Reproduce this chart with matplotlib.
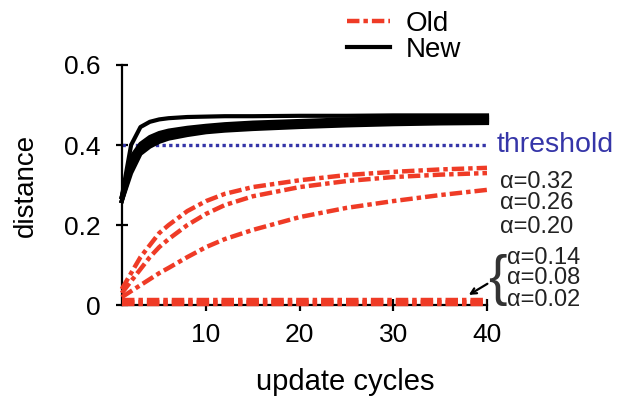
import matplotlib
matplotlib.use("Agg")
import matplotlib.pyplot as plt

plt.rcParams['font.family'] = ['Liberation Sans', 'DejaVu Sans']

# данні
cycles = [1, 2, 3, 4, 5, 6, 8, 10, 12, 15, 20, 25, 30, 35, 40]

old_032 = [0.04, 0.08, 0.12, 0.15, 0.18, 0.20, 0.235, 0.26, 0.278, 0.295, 0.312, 0.325, 0.333, 0.339, 0.343]
old_026 = [0.03, 0.06, 0.09, 0.12, 0.145, 0.165, 0.20, 0.228, 0.25, 0.272, 0.295, 0.31, 0.32, 0.326, 0.33]
old_020 = [0.02, 0.035, 0.05, 0.065, 0.08, 0.093, 0.12, 0.145, 0.165, 0.188, 0.22, 0.243, 0.26, 0.275, 0.288]
old_014 = [0.012, 0.012, 0.012, 0.012, 0.012, 0.012, 0.012, 0.012, 0.012, 0.012, 0.012, 0.012, 0.012, 0.012, 0.012]
old_008 = [0.008, 0.008, 0.008, 0.008, 0.008, 0.008, 0.008, 0.008, 0.008, 0.008, 0.008, 0.008, 0.008, 0.008, 0.008]
old_002 = [0.004, 0.004, 0.004, 0.004, 0.004, 0.004, 0.004, 0.004, 0.004, 0.004, 0.004, 0.004, 0.004, 0.004, 0.004]

new_1 = [0.27, 0.40, 0.445, 0.458, 0.464, 0.467, 0.47, 0.471, 0.472, 0.472, 0.473, 0.473, 0.474, 0.474, 0.474]
new_2 = [0.27, 0.37, 0.403, 0.42, 0.43, 0.436, 0.443, 0.448, 0.452, 0.456, 0.46, 0.464, 0.467, 0.469, 0.470]
new_3 = [0.27, 0.36, 0.398, 0.415, 0.425, 0.431, 0.439, 0.444, 0.448, 0.452, 0.456, 0.46, 0.463, 0.465, 0.466]
new_4 = [0.26, 0.35, 0.39, 0.408, 0.418, 0.425, 0.434, 0.44, 0.444, 0.448, 0.452, 0.456, 0.459, 0.461, 0.462]
new_5 = [0.26, 0.34, 0.384, 0.402, 0.413, 0.42, 0.429, 0.436, 0.44, 0.444, 0.448, 0.452, 0.455, 0.457, 0.458]
new_6 = [0.26, 0.33, 0.378, 0.396, 0.408, 0.416, 0.425, 0.432, 0.436, 0.44, 0.445, 0.449, 0.452, 0.454, 0.455]

threshold = 0.4
alpha_labels = ['α=0.32', 'α=0.26', 'α=0.20', 'α=0.14', 'α=0.08', 'α=0.02']

red = '#ef3b26'
blue = '#3535a8'
dash = (2.8, 0.9, 1.0, 0.9)

fig = plt.figure(figsize=(6.18, 4.01), dpi=100)
ax = fig.add_axes([0.197, 0.239, 0.591, 0.599])

for i, ys in enumerate([old_032, old_026, old_020, old_014, old_008, old_002]):
    ax.plot(cycles, ys, color=red, lw=3.2, dashes=dash, clip_on=False,
            label='Old' if i == 0 else None, zorder=3)

for i, ys in enumerate([new_6, new_5, new_4, new_3, new_2, new_1]):
    ax.plot(cycles, ys, color='black', lw=3.0, clip_on=False,
            label='New' if i == 0 else None, zorder=3)

ax.plot([cycles[0], cycles[-1]], [threshold, threshold], color=blue, lw=2.4,
        linestyle=(0, (1, 1)), zorder=2)

ax.set_xlim(1, 40)
ax.set_ylim(0, 0.6)
ax.set_xticks([10, 20, 30, 40])
ax.set_yticks([0, 0.2, 0.4, 0.6])
ax.set_yticklabels(['0', '0.2', '0.4', '0.6'])
ax.spines['top'].set_visible(False)
ax.spines['right'].set_visible(False)
ax.spines['left'].set_linewidth(1.6)
ax.spines['bottom'].set_linewidth(1.6)
ax.tick_params(direction='inout', length=8, width=1.6, labelsize=19)
ax.tick_params(axis='x', pad=9)
ax.tick_params(axis='y', pad=11)
ax.set_xlabel('update cycles', fontsize=21, labelpad=15, x=0.611)
ax.set_ylabel('distance', fontsize=20, labelpad=18)

ax.text(41.06, threshold, 'threshold', color=blue, fontsize=20.5, va='center', ha='left')

label_y = [0.308, 0.255, 0.195, 0.118, 0.067, 0.013]
label_x = [41.4, 41.4, 41.4, 42.1, 42.1, 42.1]
for lx, ly, lab in zip(label_x, label_y, alpha_labels):
    ax.text(lx, ly, lab, fontsize=17, va='center', ha='left', color='#222222')

ax.text(40.1, 0.063, '{', fontsize=40, va='center', ha='left', color='#333333')
ax.annotate('', xy=(37.8, 0.022), xytext=(40.3, 0.057),
            arrowprops=dict(arrowstyle='->', color='black', lw=1.6),
            annotation_clip=False)

fig.legend(loc='upper left', bbox_to_anchor=(347 / 618, 1 - 11 / 401), frameon=False,
           fontsize=20, handlelength=1.55, labelspacing=0.0, handletextpad=0.55,
           borderpad=0, borderaxespad=0)

fig.savefig('out.png', dpi=100)
